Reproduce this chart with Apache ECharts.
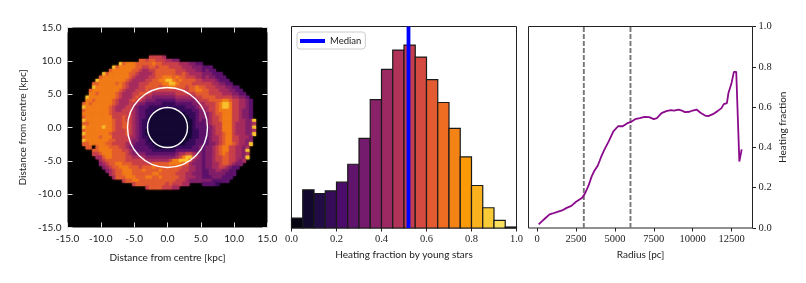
<!DOCTYPE html>
<html><head><meta charset="utf-8">
<style>html,body{margin:0;padding:0;background:#fff}#c{width:806px;height:283px}</style>
<script src="https://cdn.jsdelivr.net/npm/echarts@6/dist/echarts.min.js"></script>
</head><body><div id="c"></div>
<script>
// --- heat map: one digit per 0.5 kpc cell (level of heating fraction); '.' = no data
const rowY = [10.5,10,9.5,9,8.5,8,7.5,7,6.5,6,5.5,5,4.5,4,3.5,3,2.5,2,1.5,1,0.5,0,-0.5,-1,-1.5,-2,-2.5,-3,-3.5,-4,-4.5,-5,-5.5,-6,-6.5,-7,-7.5,-8,-8.5,-9];
const rowStartX = [-2.5,-4,-7,-8,-8.5,-9.5,-10,-10.5,-11,-11,-11.5,-11.5,-12,-12,-12.5,-12.5,-12.5,-12.5,-12.5,-12.5,-12.5,-12.5,-12.5,-12.5,-12.5,-12.5,-12.5,-12,-11,-11,-10.5,-10,-10,-9.5,-9,-8.5,-8,-6.5,-5,-3];
const rowCells = [
"66665",
"776776665544",
"9788877"+"77787766"+"6665554433",
"978888877"+"66776777"+"6666555444"+"333",
"7888888776"+"55667777"+"7766655544"+"3433",
"978888887765"+"55567777"+"7766765555"+"444333",
"7888888887655"+"55667788"+"8787766655"+"4544333",
"98888888876555"+"56677889"+"9878777766"+"55554333",
"778888878765556"+"66777788"+"9987777666"+"666554433",
"988888888765556"+"67777677"+"8877767787"+"76665554433",
"7888888887655566"+"67666666"+"6666667788"+"776665554433",
"8878888876555667"+"76655555"+"5566666677"+"7766665554433",
"98888888876555676"+"65544444"+"4455555566"+"77776666655443",
"88788888765556766"+"54443333"+"3344444456"+"667777887665543",
"787888888765556654"+"43333322"+"2233333445"+"566678998665543",
"988888887655566543"+"33222222"+"2222233345"+"556678998665543",
"788888887655666543"+"32221111"+"1112222334"+"456678888665443",
"888888887666666543"+"32211111"+"1111122234"+"445677888665443",
"788888888666766543"+"32111111"+"1111112234"+"445667888665443",
"988888888766766543"+"22111111"+"1111111234"+"3456678886655449",
"778888888766776543"+"22111111"+"1111111233"+"3456668886555445",
"988888988766776543"+"22111111"+"1111111233"+"3345668886555449",
"788888888766676543"+"21111111"+"1111111223"+"3345668886555445",
"988888887666676543"+"21111111"+"1111111223"+"3345667886555449",
"788887888666665543"+"22111111"+"1111111223"+"334556788665554",
"988888887766665443"+"32111111"+"1111112233"+"334556788665544",
"778888877666655433"+"32211111"+"1111122233"+"334456788765549",
"77078887776654333"+"33221111"+"1122222334"+"34456788665545",
"778888777665433"+"33322222"+"2233333334"+"34456788665549",
"667888777765444"+"43333333"+"3345566544"+"34456787665545",
"55788777766555"+"54444444"+"4456899654"+"34456677665549",
"5677777766666"+"65555555"+"6889997544"+"3445667766545",
"4567788777666"+"66677777"+"8888775444"+"344556776544",
"456778887776"+"77787777"+"7777665544"+"34455665433",
"45677888777"+"87777877"+"7776665544"+"3344554433",
"5677888777"+"77788777"+"7766655444"+"3344444333",
"577788877"+"78877877"+"7776655544"+"333444333",
"677887"+"77777777"+"7766654444"+"44433333",
"677"+"77777776"+"766655...."+"33332",
"6777766655"
];
const digitLevels = [0,0.09,0.18,0.27,0.36,0.45,0.54,0.63,0.71,0.86];
const ringRadii = [3, 6];

// --- histogram
const binEdges = [0,0.05,0.1,0.15,0.2,0.25,0.3,0.35,0.4,0.45,0.5,0.55,0.6,0.65,0.7,0.75,0.8,0.85,0.9,0.95,1];
const binCounts = [30,115,104,112,138,192,270,387,478,536,551,515,447,378,300,214,128,61,23,3];
const histMax = 607;
const medianX = 0.52;

// --- radial profile
const radiusPc = [100,300,500,800,1000,1300,1600,1900,2200,2500,2700,2900,3100,3300,3500,3650,3900,4100,4300,4600,4900,5200,5500,5800,6000,6300,6600,6900,7200,7500,7700,8000,8300,8600,8800,9100,9300,9500,9800,10000,10250,10500,10800,11000,11300,11600,11850,12000,12200,12300,12500,12650,12800,13000,13150];
const fraction = [0.018,0.033,0.047,0.068,0.072,0.08,0.087,0.1,0.11,0.13,0.14,0.15,0.175,0.21,0.255,0.28,0.31,0.35,0.385,0.43,0.48,0.505,0.505,0.52,0.525,0.54,0.545,0.552,0.55,0.54,0.545,0.57,0.58,0.585,0.583,0.587,0.583,0.575,0.577,0.583,0.588,0.572,0.558,0.555,0.565,0.58,0.595,0.615,0.62,0.67,0.72,0.775,0.775,0.33,0.39];
const dashedRadii = [3000, 6000];
const radiusTicks = [0,2500,5000,7500,10000,12500];

// --- colour map (inferno)
const inferno = ['#000004','#1b0c41','#4a0c6b','#781c6d','#a52c60','#cf4446','#ed6925','#fb9b06','#f7d13d','#fcffa4'];
function hex(c){return [1,3,5].map(i=>parseInt(c.substr(i,2),16));}
function cmap(t){
  t=Math.max(0,Math.min(1,t));
  const p=t*(inferno.length-1), i=Math.min(Math.floor(p),inferno.length-2), f=p-i;
  const a=hex(inferno[i]), b=hex(inferno[i+1]);
  return 'rgb('+a.map((v,k)=>Math.round(v+(b[k]-v)*f)).join(',')+')';
}

const cells=[];
rowCells.forEach((s,r)=>{
  for(let i=0;i<s.length;i++){
    if(s[i]==='.')continue;
    cells.push([rowStartX[r]+0.5*i,rowY[r],digitLevels[+s[i]]]);
  }
});
const bins=binCounts.map((c,i)=>[binEdges[i],binEdges[i+1],c]);

const SANS='Lato', SERIF='Liberation Serif';
const frame='#222';
const nameStyle={fontFamily:SANS,fontSize:10,color:'#222'};
function distAxis(pos,labels,name){
  return {type:'value',position:pos,min:-15,max:15,interval:5,
    name:labels?name:'',nameLocation:'middle',nameGap:pos==='left'?40:25,nameTextStyle:nameStyle,
    splitLine:{show:false},axisLine:{show:false,onZero:false},
    axisTick:{show:true,inside:true,length:5,lineStyle:{color:'#ddd',width:1}},
    axisLabel:{show:labels,fontFamily:SANS,fontSize:10,color:'#222',margin:6,showMinLabel:true,showMaxLabel:true,formatter:v=>v.toFixed(1)}};
}

const option={
  animation:false,backgroundColor:'#fff',
  grid:[
    {left:67.5,top:27.5,width:200,height:200,show:true,backgroundColor:'#000',borderWidth:0,containLabel:false},
    {left:291.5,top:26.5,width:225,height:201.5,show:true,backgroundColor:'#fff',borderColor:frame,borderWidth:1},
    {left:528.5,top:26.5,width:224,height:201.5,show:true,backgroundColor:'#fff',borderColor:frame,borderWidth:1}
  ],
  xAxis:[
    Object.assign(distAxis('bottom',true,'Distance from centre [kpc]'),{gridIndex:0}),
    Object.assign(distAxis('top',false),{gridIndex:0}),
    {gridIndex:1,type:'value',min:0,max:1,interval:0.2,name:'Heating fraction by young stars',nameLocation:'middle',nameGap:22,nameTextStyle:nameStyle,
      splitLine:{show:false},axisLine:{show:false,onZero:false},axisTick:{length:3.5,lineStyle:{color:frame}},
      axisLabel:{fontFamily:SERIF,fontSize:10.5,color:'#222',margin:6,formatter:v=>v.toFixed(1)}},
    {gridIndex:2,type:'value',min:-557,max:13846,name:'Radius [pc]',nameLocation:'middle',nameGap:22,nameTextStyle:nameStyle,
      splitLine:{show:false},axisLine:{show:false,onZero:false},axisTick:{length:3.5,lineStyle:{color:frame},customValues:radiusTicks},
      axisLabel:{fontFamily:SERIF,fontSize:10.5,color:'#222',margin:6,customValues:radiusTicks,formatter:v=>String(v)}}
  ],
  yAxis:[
    Object.assign(distAxis('left',true,'Distance from centre [kpc]'),{gridIndex:0}),
    Object.assign(distAxis('right',false),{gridIndex:0}),
    {gridIndex:1,type:'value',min:0,max:histMax,show:false,splitLine:{show:false}},
    {gridIndex:2,type:'value',position:'right',min:0,max:1,interval:0.2,name:'Heating fraction',nameLocation:'middle',nameRotate:90,nameGap:25,nameTextStyle:nameStyle,
      splitLine:{show:false},axisLine:{show:false,onZero:false},axisTick:{length:3.5,lineStyle:{color:frame}},
      axisLabel:{fontFamily:SERIF,fontSize:10.5,color:'#222',margin:6,formatter:v=>v.toFixed(1)}}
  ],
  legend:{show:true,data:['Median'],left:297,top:32,icon:'rect',itemWidth:25,itemHeight:4,itemGap:4,
    padding:[4,4,3,3],borderColor:'#ccc',borderWidth:1,borderRadius:3,backgroundColor:'rgba(255,255,255,0.8)',
    textStyle:{fontFamily:SANS,fontSize:9.5,color:'#222'}},
  series:[
    {type:'custom',name:'map',xAxisIndex:0,yAxisIndex:0,coordinateSystem:'cartesian2d',data:cells,clip:true,silent:true,
      encode:{x:0,y:1},
      renderItem:(p,api)=>{
        const c=api.coord([api.value(0)-0.25,api.value(1)+0.25]), d=api.coord([api.value(0)+0.25,api.value(1)-0.25]);
        const col=cmap(api.value(2));
        return {type:'rect',shape:{x:c[0]-0.2,y:c[1]-0.2,width:d[0]-c[0]+0.4,height:d[1]-c[1]+0.4},
          style:{fill:col,shadowBlur:2,shadowColor:col}};
      }},
    {type:'custom',name:'rings',xAxisIndex:0,yAxisIndex:0,coordinateSystem:'cartesian2d',data:ringRadii.map(r=>[0,0,r]),silent:true,z:5,
      encode:{x:0,y:1},
      renderItem:(p,api)=>{
        const c=api.coord([api.value(0),api.value(1)]), s=api.size([api.value(2),0]);
        return {type:'circle',shape:{cx:c[0],cy:c[1],r:s[0]},style:{fill:'none',stroke:'#fff',lineWidth:1.4}};
      }},
    {type:'custom',name:'hist',xAxisIndex:2,yAxisIndex:2,coordinateSystem:'cartesian2d',data:bins,silent:true,
      encode:{x:[0,1],y:2},
      renderItem:(p,api)=>{
        const a=api.coord([api.value(0),api.value(2)]), b=api.coord([api.value(1),0]);
        return {type:'rect',shape:{x:a[0],y:a[1],width:b[0]-a[0],height:b[1]-a[1]},
          style:{fill:cmap((api.value(0)+api.value(1))/2),stroke:'#1a1a1a',lineWidth:1.2}};
      }},
    {type:'line',name:'Median',xAxisIndex:2,yAxisIndex:2,data:[[medianX,0],[medianX,histMax]],symbol:'none',silent:true,z:6,clip:false,
      itemStyle:{color:'#0000ff'},lineStyle:{color:'#0000ff',width:3.8,cap:'butt'}},
    ...dashedRadii.map(r=>({type:'line',name:'r'+r,xAxisIndex:3,yAxisIndex:3,data:[[r,0],[r,1]],symbol:'none',silent:true,
      lineStyle:{color:'#777',width:1.9,type:[5,2]}})),
    {type:'line',name:'profile',xAxisIndex:3,yAxisIndex:3,data:radiusPc.map((r,i)=>[r,fraction[i]]),symbol:'none',silent:true,z:6,
      lineStyle:{color:'#8b0a8b',width:1.8}}
  ]
};
echarts.init(document.getElementById('c'),null,{renderer:'canvas'}).setOption(option);
</script></body></html>
